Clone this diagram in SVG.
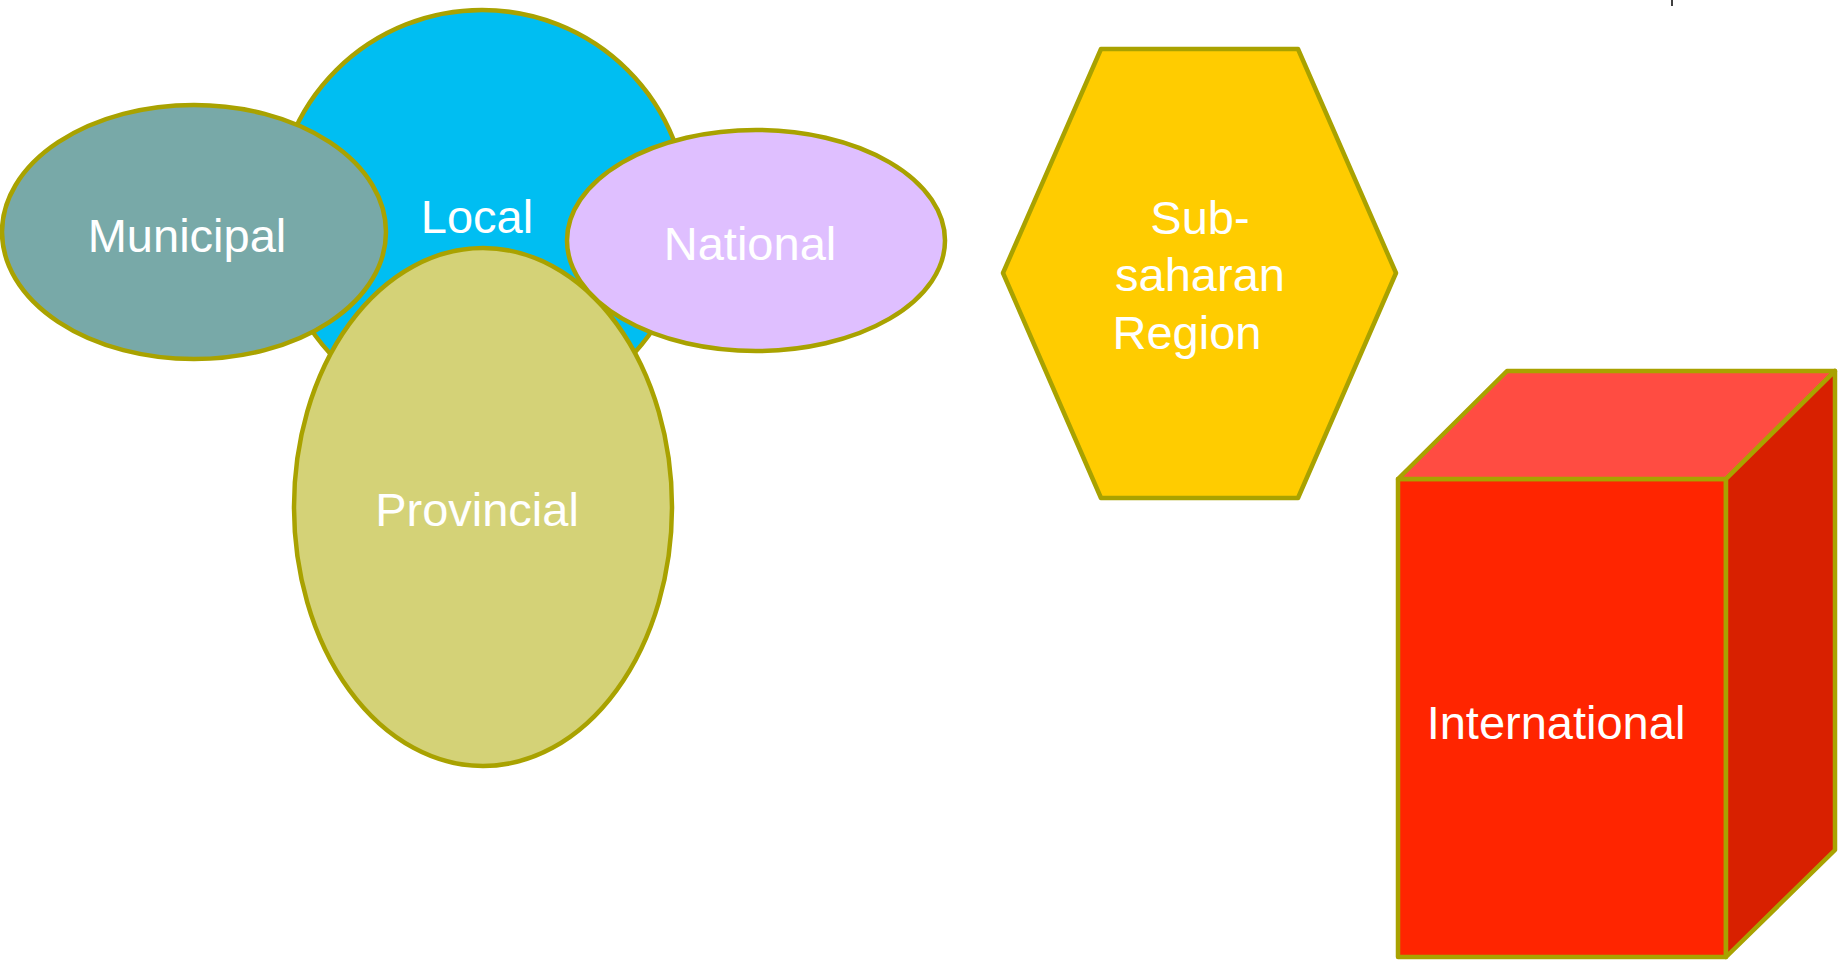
<svg xmlns="http://www.w3.org/2000/svg" width="1843" height="960" viewBox="0 0 1843 960">
<style>
.shape{stroke:#A9A200;stroke-width:4.5;stroke-linejoin:round}
.lbl{font-family:"Liberation Sans",Arial,sans-serif;font-size:47px;fill:#FFFFFF;text-anchor:middle}
</style>
<rect x="0" y="0" width="1843" height="960" fill="#FFFFFF"/>
<g id="connectors"></g>
<line x1="1672" y1="0" x2="1672" y2="6" stroke="#000000" stroke-width="1.5"/>
<g id="node-local">
<ellipse class="shape" cx="482" cy="215" rx="206" ry="205" fill="#00BEF2"/>
<text class="lbl" x="477" y="233">Local</text>
</g>
<g id="node-municipal">
<ellipse class="shape" cx="194" cy="232" rx="192" ry="127" fill="#78A9A8"/>
<text class="lbl" x="187" y="252">Municipal</text>
</g>
<g id="node-provincial">
<ellipse class="shape" cx="483" cy="507" rx="189" ry="259" fill="#D4D277"/>
<text class="lbl" x="477" y="526">Provincial</text>
</g>
<g id="node-national">
<ellipse class="shape" cx="756" cy="240.5" rx="189" ry="110.5" fill="#DFBFFF"/>
<text class="lbl" x="750" y="260">National</text>
</g>
<g id="node-subsaharan">
<polygon class="shape" points="1101,49 1298,49 1396,273 1298,498 1101,498 1003,273" fill="#FFCC00"/>
<text class="lbl" x="1200" y="234">Sub-</text>
<text class="lbl" x="1200" y="291">saharan</text>
<text class="lbl" x="1187" y="349">Region</text>
</g>
<g id="node-international">
<rect class="shape" x="1398" y="479" width="328" height="478" fill="#FF2500"/>
<polygon class="shape" points="1398,479 1507,371 1835,371 1726,479" fill="#FF4C42"/>
<polygon class="shape" points="1726,479 1835,371 1835,850 1726,957" fill="#D82000"/>
<text class="lbl" x="1556" y="739">International</text>
</g>
</svg>
